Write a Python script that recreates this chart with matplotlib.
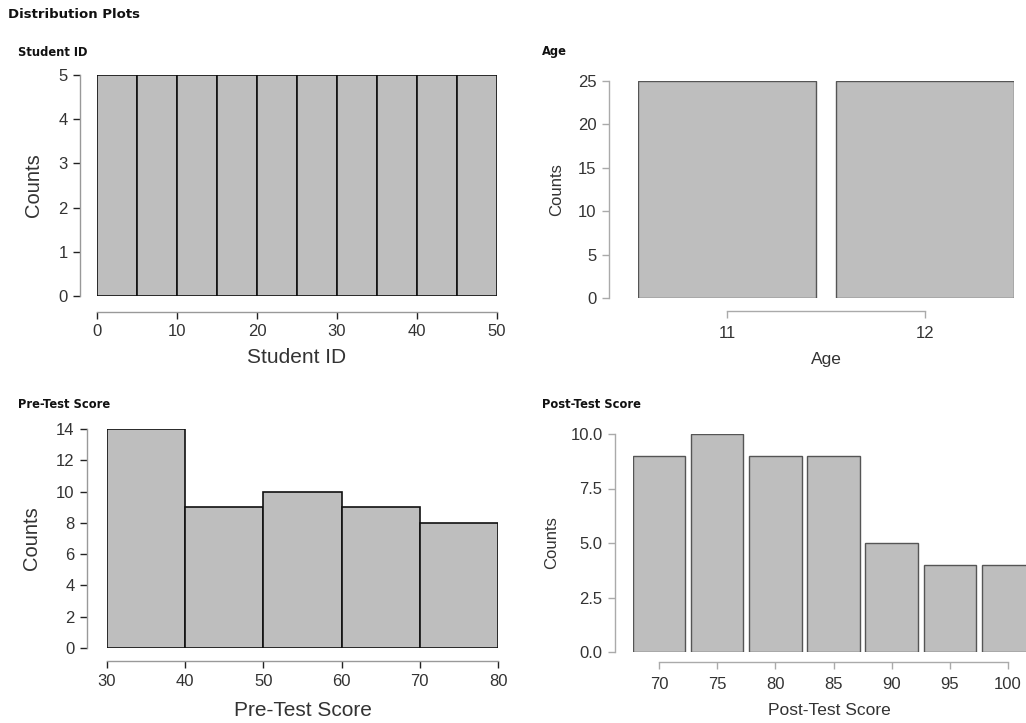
import numpy as np
import matplotlib.pyplot as plt

plt.rcParams['font.family'] = ['Liberation Sans', 'DejaVu Sans']

W, H = 1026, 723

# data
id_edges = [0, 5, 10, 15, 20, 25, 30, 35, 40, 45, 50]
id_counts = [5, 5, 5, 5, 5, 5, 5, 5, 5, 5]

age_values = [11, 12]
age_counts = [25, 25]

pre_edges = [30, 40, 50, 60, 70, 80]
pre_counts = [14, 9, 10, 9, 8]

post_values = [70, 75, 80, 85, 90, 95, 100]
post_counts = [9, 10, 9, 9, 5, 4, 4]

FILL = '#bebebe'
TXT = '#333333'
PT = 0.72  # px -> pt at dpi 100


def px(l, t, r, b):
    return [l / W, 1 - b / H, (r - l) / W, (b - t) / H]


def style(ax, left_off, bottom_off, xb, yb, spine_col, tick_col, fs, xpad=4):
    for s in ['top', 'right']:
        ax.spines[s].set_visible(False)
    ax.spines['left'].set_position(('outward', left_off * PT))
    ax.spines['bottom'].set_position(('outward', bottom_off * PT))
    ax.spines['left'].set_bounds(*yb)
    ax.spines['bottom'].set_bounds(*xb)
    for s in ['left', 'bottom']:
        ax.spines[s].set_color(spine_col)
        ax.spines[s].set_linewidth(1.0)
    ax.tick_params(axis='both', colors=tick_col, labelcolor=TXT, labelsize=fs,
                   length=5, width=1.0, pad=4)
    ax.tick_params(axis='x', pad=xpad)


def title(x, y, s, size=8.3):
    fig.text(x / W, 1 - y / H, s, fontsize=size, fontweight='bold', color='#111111',
             va='center', family='DejaVu Sans')


fig = plt.figure(figsize=(W / 100, H / 100), dpi=100)
title(8, 15, 'Distribution Plots', 9.5)

# Student ID
ax1 = fig.add_axes(px(97, 75, 497, 296))
ax1.hist(np.repeat(np.array(id_edges[:-1]) + 2.5, id_counts), bins=id_edges,
         color=FILL, edgecolor='#111111', linewidth=1.2)
ax1.set_xlim(0, 50)
ax1.set_ylim(0, 5)
style(ax1, 17, 16, (0, 50), (0, 5), '#999999', '#222222', 12)
ax1.set_xticks(range(0, 51, 10))
ax1.set_yticks(range(0, 6))
ax1.set_xlabel('Student ID', fontsize=15, color=TXT, labelpad=6)
ax1.set_ylabel('Counts', fontsize=14.5, color=TXT, labelpad=11)
title(18, 52, 'Student ID')

# Age
ax2 = fig.add_axes(px(638, 81, 1014, 298))
ax2.bar(age_values, age_counts, width=0.9, color=FILL, edgecolor='#555555', linewidth=1.0)
ax2.set_xlim(10.55, 12.45)
ax2.set_ylim(0, 25)
style(ax2, 29, 13, (11, 12), (0, 25), '#aaaaaa', '#aaaaaa', 12, xpad=6)
ax2.set_xticks(age_values)
ax2.set_yticks(range(0, 26, 5))
ax2.set_xlabel('Age', fontsize=12.5, color=TXT, labelpad=8)
ax2.set_ylabel('Counts', fontsize=12, color=TXT, labelpad=10)
title(542, 52, 'Age')

# Pre-Test Score
ax3 = fig.add_axes(px(107, 429, 498, 648))
ax3.hist(np.repeat(np.array(pre_edges[:-1]) + 5, pre_counts), bins=pre_edges,
         color=FILL, edgecolor='#111111', linewidth=1.2)
ax3.set_xlim(30, 80)
ax3.set_ylim(0, 14)
style(ax3, 20, 13, (30, 80), (0, 14), '#999999', '#222222', 12)
ax3.set_xticks(range(30, 81, 10))
ax3.set_yticks(range(0, 15, 2))
ax3.set_xlabel('Pre-Test Score', fontsize=15, color=TXT, labelpad=9)
ax3.set_ylabel('Counts', fontsize=14.5, color=TXT, labelpad=11)
title(18, 404, 'Pre-Test Score')

# Post-Test Score
ax4 = fig.add_axes(px(633, 434, 1026, 652))
ax4.bar(post_values, post_counts, width=4.5, color=FILL, edgecolor='#555555', linewidth=1.0)
ax4.set_xlim(67.76, 101.55)
ax4.set_ylim(0, 10)
style(ax4, 18, 10, (70, 100), (0, 10), '#aaaaaa', '#aaaaaa', 12, xpad=6)
ax4.set_xticks(post_values)
ax4.set_yticks([0, 2.5, 5, 7.5, 10])
ax4.set_yticklabels(['0.0', '2.5', '5.0', '7.5', '10.0'])
ax4.set_xlabel('Post-Test Score', fontsize=12.5, color=TXT, labelpad=8)
ax4.set_ylabel('Counts', fontsize=12, color=TXT, labelpad=8)
title(542, 404, 'Post-Test Score')

fig.savefig('out.png', dpi=100)
